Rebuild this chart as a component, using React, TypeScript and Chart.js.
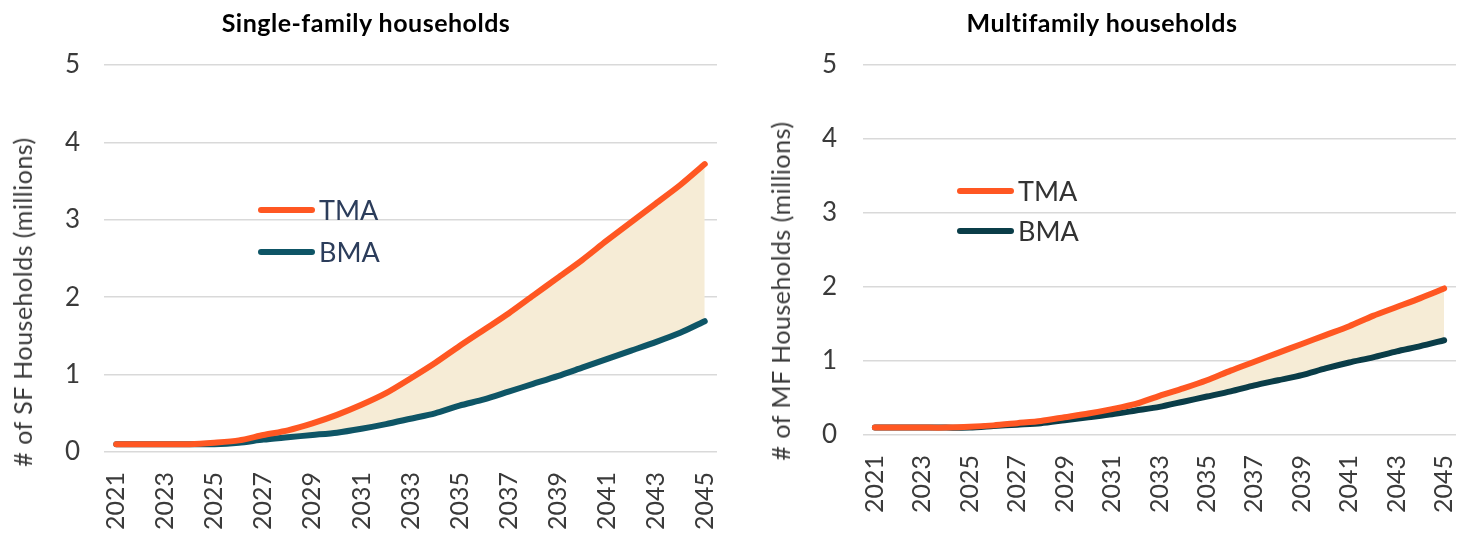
import React, { useEffect, useRef } from "react";
import { Chart, registerables } from "chart.js";

Chart.register(...registerables);

// ---------- data ----------
const years = [
  "2021", "2022", "2023", "2024", "2025", "2026", "2027", "2028", "2029", "2030",
  "2031", "2032", "2033", "2034", "2035", "2036", "2037", "2038", "2039", "2040",
  "2041", "2042", "2043", "2044", "2045",
];

const sfTMA = [
  0.1, 0.1, 0.1, 0.1, 0.12, 0.15, 0.22, 0.28, 0.37, 0.48,
  0.61, 0.76, 0.95, 1.15, 1.37, 1.58, 1.79, 2.02, 2.25, 2.48,
  2.73, 2.97, 3.21, 3.45, 3.72,
];
const sfBMA = [
  0.1, 0.1, 0.1, 0.1, 0.1, 0.12, 0.16, 0.19, 0.22, 0.25,
  0.3, 0.36, 0.43, 0.5, 0.6, 0.68, 0.78, 0.88, 0.98, 1.09,
  1.2, 1.31, 1.42, 1.54, 1.69,
];
const mfTMA = [
  0.1, 0.1, 0.1, 0.1, 0.11, 0.13, 0.16, 0.19, 0.24, 0.29,
  0.35, 0.42, 0.53, 0.63, 0.74, 0.87, 0.99, 1.11, 1.23, 1.35,
  1.47, 1.61, 1.73, 1.85, 1.98,
];
const mfBMA = [
  0.1, 0.1, 0.1, 0.1, 0.1, 0.12, 0.14, 0.16, 0.2, 0.24,
  0.28, 0.33, 0.38, 0.45, 0.52, 0.59, 0.67, 0.74, 0.81, 0.9,
  0.98, 1.05, 1.13, 1.2, 1.28,
];

const yMin = 0;
const yMax = 5;
const yStep = 1;
const seriesNames = ["TMA", "BMA"];

// ---------- styles ----------
const FONT = "Lato, 'Open Sans', sans-serif";
const ORANGE = "#ff5722";
const FILL = "#f6ecd6";
const GRID = "#d9d9d9";
const TICK = "#3a3a3a";

type PanelProps = {
  left: number;
  title: string;
  titleX: number;
  yTitle: string;
  yTitleX: number;
  yTitleY: number;
  tma: number[];
  bma: number[];
  bmaColor: string;
  legendX: number;
  legendY1: number;
  legendY2: number;
  legendColor: string;
  yAxisWidth: number;
  xAxisHeight: number;
  padRight: number;
  yPad: number;
};

const W = 730;
const H = 533;

function Panel(p: PanelProps) {
  const ref = useRef<HTMLCanvasElement | null>(null);
  useEffect(() => {
    if (!ref.current) return;
    const chart = new Chart(ref.current, {
      type: "line",
      data: {
        labels: years,
        datasets: [
          {
            label: seriesNames[0],
            data: p.tma,
            borderColor: ORANGE,
            backgroundColor: FILL,
            borderWidth: 6,
            pointRadius: 0,
            tension: 0.25,
            borderCapStyle: "round",
            borderJoinStyle: "round",
            fill: "+1",
          },
          {
            label: seriesNames[1],
            data: p.bma,
            borderColor: p.bmaColor,
            backgroundColor: p.bmaColor,
            borderWidth: 6,
            pointRadius: 0,
            tension: 0.25,
            borderCapStyle: "round",
            borderJoinStyle: "round",
            fill: false,
          },
        ],
      },
      options: {
        responsive: false,
        animation: false,
        layout: { padding: { left: 0, right: p.padRight, top: 65, bottom: 0 } },
        plugins: {
          legend: { display: false },
          title: { display: false },
          tooltip: { enabled: false },
          filler: { drawTime: "beforeDatasetsDraw" },
        },
        scales: {
          x: {
            offset: true,
            grid: { display: false, drawTicks: false },
            border: { display: false },
            ticks: {
              autoSkip: false,
              minRotation: 90,
              maxRotation: 90,
              padding: 20,
              color: TICK,
              font: { family: FONT, size: 25 },
              callback: (_v: any, i: number) => (i % 2 === 0 ? years[i] : ""),
            },
            afterFit: (s: any) => {
              s.height = p.xAxisHeight;
              s.paddingLeft = 0;
              s.paddingRight = 0;
            },
          },
          y: {
            min: yMin,
            max: yMax,
            grid: { color: GRID, lineWidth: 1.5, drawTicks: false },
            border: { display: false },
            ticks: {
              stepSize: yStep,
              padding: p.yPad,
              color: TICK,
              font: { family: FONT, size: 26 },
            },
            afterFit: (s: any) => {
              s.width = p.yAxisWidth;
            },
          },
        },
      },
    });
    return () => chart.destroy();
  }, []);

  const legendItem = (color: string, text: string, y: number) => (
    <div
      style={{
        position: "absolute",
        left: p.legendX,
        top: y,
        transform: "translateY(-50%)",
        display: "flex",
        alignItems: "center",
        whiteSpace: "nowrap",
      }}
    >
      <div style={{ width: 57, height: 6, borderRadius: 3, background: color }} />
      <span
        style={{
          marginLeft: 4,
          fontFamily: FONT,
          fontSize: 27,
          color: p.legendColor,
          lineHeight: "30px",
        }}
      >
        {text}
      </span>
    </div>
  );

  return (
    <div style={{ position: "absolute", left: p.left, top: 0, width: W, height: H }}>
      <canvas ref={ref} width={W} height={H} style={{ display: "block" }} />
      <div
        style={{
          position: "absolute",
          left: p.titleX,
          top: 22,
          transform: "translate(-50%, -50%)",
          fontFamily: FONT,
          fontWeight: 700,
          fontSize: 25,
          letterSpacing: 0.5,
          color: "#000",
          whiteSpace: "nowrap",
        }}
      >
        {p.title}
      </div>
      <div
        style={{
          position: "absolute",
          left: p.yTitleX,
          top: p.yTitleY,
          transform: "translate(-50%, -50%) rotate(-90deg)",
          fontFamily: FONT,
          fontSize: 25,
          letterSpacing: 0.5,
          color: "#3a3a3a",
          whiteSpace: "nowrap",
        }}
      >
        {p.yTitle}
      </div>
      {legendItem(ORANGE, seriesNames[0], p.legendY1)}
      {legendItem(p.bmaColor, seriesNames[1], p.legendY2)}
    </div>
  );
}

export default function App() {
  useEffect(() => {
    document.body.style.margin = "0";
    document.body.style.background = "#fff";
  }, []);
  return (
    <div style={{ position: "relative", width: 1466, height: 533, overflow: "hidden", background: "#fff" }}>
      <Panel
        left={0}
        title="Single-family households"
        titleX={366}
        yTitle="# of SF Households (millions)"
        yTitleX={22}
        yTitleY={302}
        tma={sfTMA}
        bma={sfBMA}
        bmaColor="#0e5566"
        legendX={258}
        legendY1={210}
        legendY2={252}
        legendColor="#2c3d5b"
        yAxisWidth={104}
        xAxisHeight={81}
        padRight={13}
        yPad={24}
      />
      <Panel
        left={736}
        title="Multifamily households"
        titleX={366}
        yTitle="# of MF Households (millions)"
        yTitleX={44}
        yTitleY={291}
        tma={mfTMA}
        bma={mfBMA}
        bmaColor="#0a3d48"
        legendX={221}
        legendY1={191}
        legendY2={231}
        legendColor="#333333"
        yAxisWidth={127}
        xAxisHeight={98}
        padRight={10}
        yPad={26}
      />
    </div>
  );
}
